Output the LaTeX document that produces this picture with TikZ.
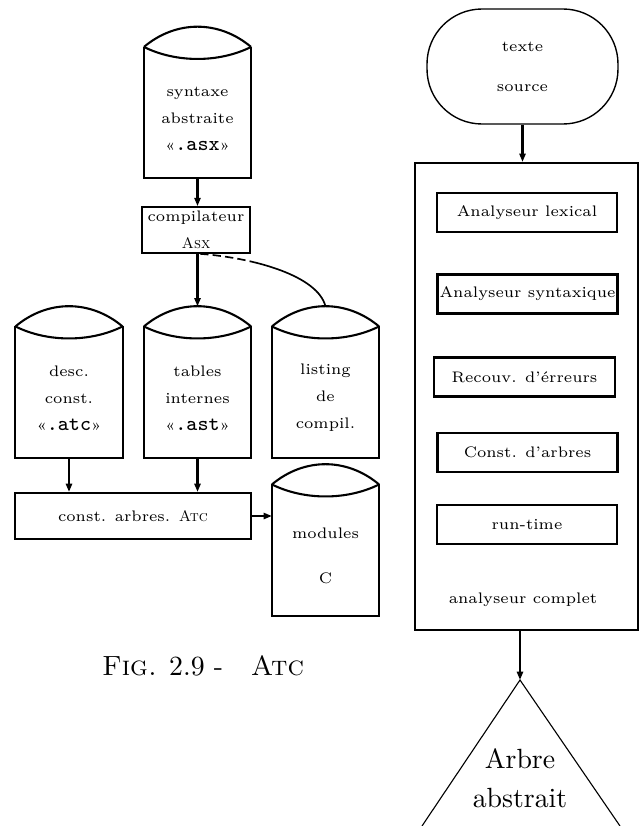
\documentclass[tikz,border=0pt]{standalone}
\usepackage{fontspec}
\usetikzlibrary{arrows.meta,calc,positioning}
\def\unite{0.36pt}
\newcommand{\boite}{\fontsize{5.5}{9.7}\selectfont\addfontfeatures{LetterSpace=12}}
\newcommand{\ext}[1]{{\fontsize{7.5}{9.7}\selectfont\ttfamily #1}}
\newcommand{\disque}[1]{% corps du disque = noeud #1
  \coordinate (#1-nw) at ($(#1.north west)+(0,-12)$);
  \coordinate (#1-ne) at ($(#1.north east)+(0,-12)$);
  \coordinate (#1-top) at ($(#1.north)+(0,-32)$);
  \draw[trait] (#1-nw) -- (#1.south west) -- (#1.south east) -- (#1-ne);
  % couvercle
  \draw[trait] (#1-nw) .. controls ($(#1-nw)!0.3!(#1-ne)+(0,-27)$) and ($(#1-nw)!0.7!(#1-ne)+(0,-27)$) .. (#1-ne);
  \draw[trait] (#1-nw) .. controls ($(#1-nw)!0.3!(#1-ne)+(0,16)$) and ($(#1-nw)!0.7!(#1-ne)+(0,16)$) .. (#1-ne);
}

\begin{document}
\begin{tikzpicture}[x=0.36pt,y=-0.36pt,
  trait/.style={line width=0.75pt},
  fleche/.style={line width=0.75pt,-{Triangle[length=3pt,width=2.2pt]}},
  disk/.style={rectangle,inner sep=0pt,minimum width=106*\unite,minimum height=118*\unite,align=center,font=\boite},
  cadre/.style={draw,line width=0.75pt,rectangle,inner sep=0pt,align=center,font=\boite},
  etape/.style={cadre,minimum width=180*\unite,minimum height=39*\unite}]
  \useasboundingbox (0,0) rectangle (639,826);
  % Atc
  \node[disk] (syn) at (197.5,118.5) {syntaxe\\abstraite\\«\ext{.asx}»};
  \disque{syn}
  \node[cadre,line width=0.6pt,minimum width=108*\unite,minimum height=46*\unite] (comp) at (196,230) {compilateur\\\textsc{Asx}};
  \node[disk] (desc) at (69,398) {desc.\\const.\\«\ext{.atc}»};
  \disque{desc}
  \node[disk] (tab) at (197.5,398) {tables\\internes\\«\ext{.ast}»};
  \disque{tab}
  \node[disk] (lst) at (325.5,398) {listing\\de\\compil.};
  \disque{lst}
  \node[cadre,minimum width=236*\unite,minimum height=46*\unite] (cab) at (133,516) {const. arbres. \textsc{Atc}};
  \node[disk] (mod) at (325.5,556) {modules\\[6.5pt]C};
  \disque{mod}
  \draw[fleche] (syn.south) -- (syn.south |- comp.north);
  \draw[fleche] (tab-top |- comp.south) -- (tab-top);
  \draw[fleche] (desc.south) -- (desc.south |- cab.north);
  \draw[fleche] (tab.south) -- (tab.south |- cab.north);
  \draw[fleche] (cab.east) -- (cab.east -| mod.west);
  \draw[line width=0.6pt,dash pattern=on 3pt off 1.5pt on 3pt off 1.5pt on 3pt off 1.5pt on 3pt off 1.5pt on 200pt off 0pt]
    ([xshift=1.5pt]comp.south) .. controls (255,258) and (318,276) .. (lst-top);
  \node[font=\fontsize{10}{12}\selectfont] (fig) at (203,666) {\textsc{Fig.} 2.9 -\quad\textsc{Atc}};
  % analyseur
  \node[draw,line width=0.5pt,rounded corners=19.8pt,minimum width=191*\unite,minimum height=115*\unite,align=center,font=\boite] (src) at (522.5,66.5) {texte\\[4.7pt]source};
  \node[cadre,minimum width=223*\unite,minimum height=467*\unite] (ana) at (526.5,396.5) {};
  \node[font=\boite] (anal) at (523,600) {analyseur complet};
  \node[etape] (lex) at (527,212.5) {Analyseur lexical};
  \node[etape] (synt) at (527.5,294) {Analyseur syntaxique};
  \node[etape,minimum width=181*\unite] (rec) at (524.5,377) {Recouv. d'érreurs};
  \node[etape] (cons) at (527.5,452.5) {Const. d'arbres};
  \node[etape] (run) at (527,524.5) {run-time};
  \draw[fleche] (src.south) -- (src.south |- ana.north);
  \coordinate (sommet) at (520,680);
  \draw[fleche] (sommet |- ana.south) -- (sommet);
  \draw[line width=0.4pt] (422,826) -- (sommet) -- (620,826);
  \node[font=\fontsize{10}{14}\selectfont,align=center] (arb) at (520,778) {Arbre\\abstrait};
\end{tikzpicture}
\end{document}
